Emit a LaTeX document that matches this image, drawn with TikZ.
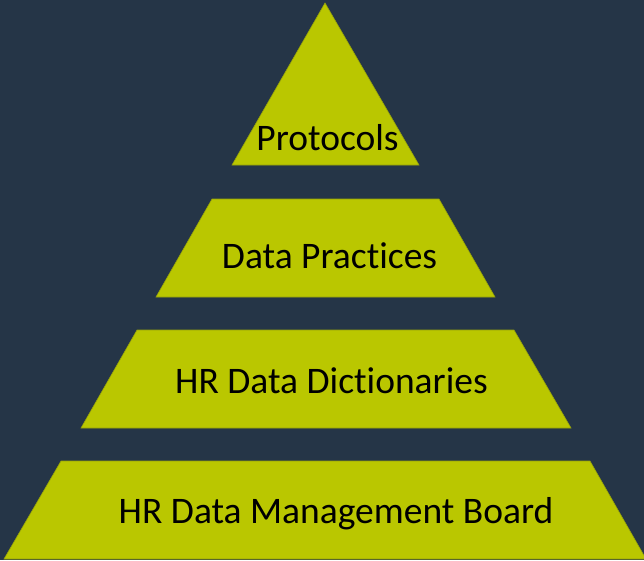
\documentclass[tikz,border=0pt]{standalone}
\usepackage{fontspec}
\setmainfont{Carlito}[Ligatures={NoCommon}]
\usepackage{tikz}
\definecolor{navy}{RGB}{37,53,71}
\definecolor{lime}{RGB}{186,199,0}
\definecolor{limeedge}{RGB}{150,162,10}

\begin{document}
\begin{tikzpicture}[x=1pt, y=-1pt,
        layer/.style={fill=lime, draw=limeedge, line width=0.6pt},
        label/.style={anchor=base, inner sep=0pt, font=\fontsize{37.5}{45}\selectfont}]
            % Background
            \fill [navy] (0,0) rectangle (644,560);
            \useasboundingbox (0,0) rectangle (644,560);
            
            % Top (triangle)
            \draw [layer] (325,3) -- (419,165) -- (232,165) -- cycle;
            \node [label] (protocols) at (327.5,150) {Protocols};
            
            % Second layer
            \draw [layer] (212,199) -- (439,199) -- (495,297) -- (156,297) -- cycle;
            \node [label] (practices) at (329.5,268) {Data Practices};
            
            % Third layer
            \draw [layer] (137,330) -- (514,330) -- (571,428) -- (81,428) -- cycle;
            \node [label] (dictionaries) at (331.5,393) {HR Data Dictionaries};
            
            % Base layer
            \draw [layer] (61,461) -- (590,461) -- (646,559) -- (4,559) -- cycle;
            \node [label] (board) at (336,523) {HR Data Management Board};
        \end{tikzpicture}
\end{document}
